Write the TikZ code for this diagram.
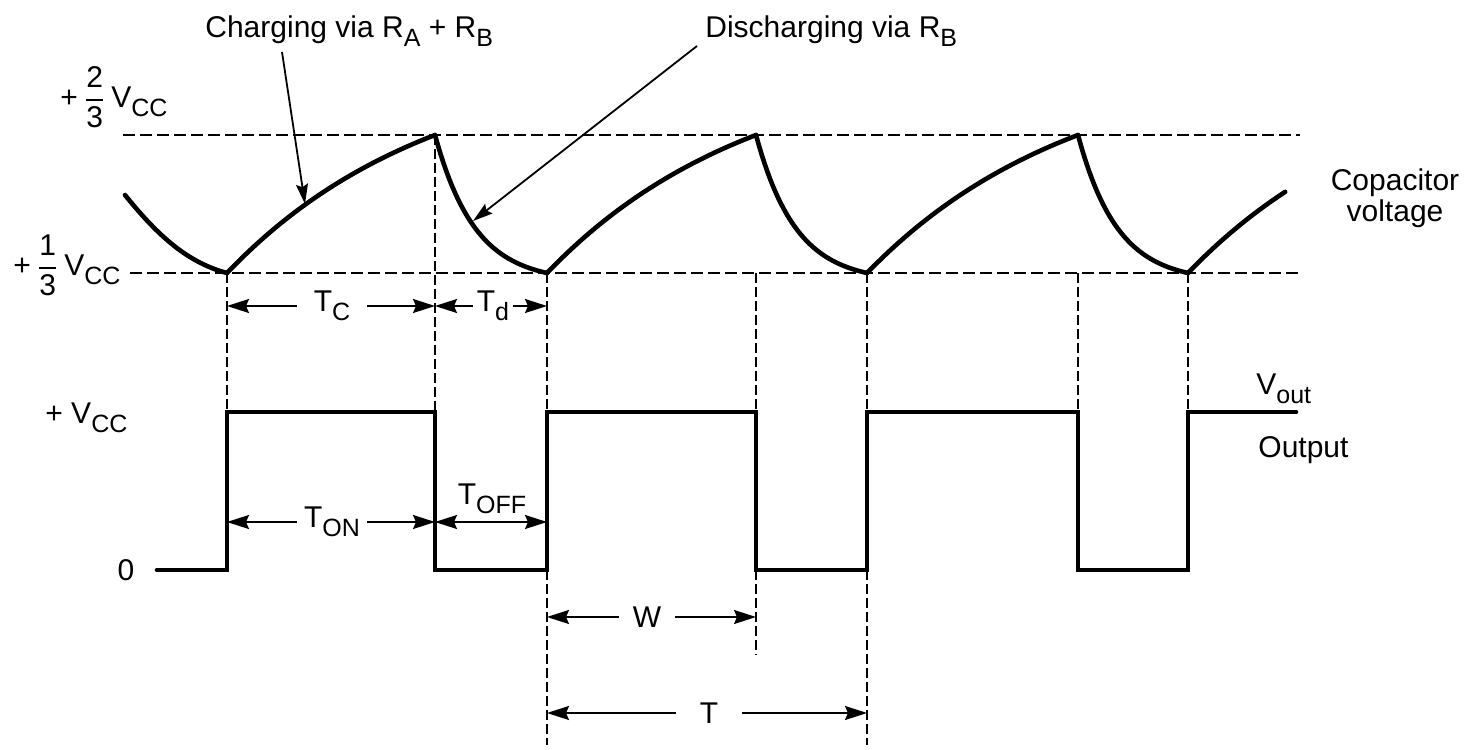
\documentclass[tikz,border=0pt]{standalone}
\usepackage{amsmath}
\usepackage{fontspec}
\setmainfont{Liberation Sans}
\usetikzlibrary{arrows.meta}
\newcommand\lowsub[1]{\raisebox{-4.5pt}{\fontsize{12.5}{13}\selectfont #1}}
\newcommand\fracvc[2]{$\genfrac{}{}{0.9pt}{0}{\text{#1}}{\text{#2}}$}
\newcommand\chargeseg[3]{\draw[wave] plot[domain=0:#3,samples=40,variable=\u] ({#1+(#2-#1)*\u},{273-138*(1-exp(-\u))/(1-exp(-1))});}
\newcommand\dischargeseg[2]{\draw[wave] plot[domain=0:1,samples=40,variable=\u] ({#1+(#2-#1)*\u},{273-138*(exp(-2.8*\u)-exp(-2.8))/(1-exp(-2.8))});}
\begin{document}
\begin{tikzpicture}[x=0.5pt,y=-0.5pt,
  every node/.style={font=\fontsize{15}{18}\selectfont, inner sep=0pt},
  wave/.style={line width=2.3pt, line join=round, line cap=round},
  guide/.style={line width=1.3pt, dash pattern=on 6pt off 2.5pt},
  vguide/.style={line width=1pt, dash pattern=on 5pt off 2pt},
  dimarrow/.style={line width=0.9pt, -{Stealth[length=11pt,width=7pt,inset=1.5pt]}},
  dimboth/.style={line width=0.9pt, {Stealth[length=11pt,width=7pt,inset=1.5pt]}-{Stealth[length=11pt,width=7pt,inset=1.5pt]}},
  callout/.style={line width=0.9pt, -{Stealth[length=10pt,width=6pt,inset=1.5pt]}}
]
\useasboundingbox (0,0) rectangle (1468,750);

% key points
\coordinate (v1) at (227,273);
\coordinate (p1) at (435,135);
\coordinate (v2) at (547,273);
\coordinate (p2) at (756,135);
\coordinate (v3) at (867,273);
\coordinate (p3) at (1078,135);
\coordinate (v4) at (1188,273);

% threshold guides
\draw[guide] (123,135) -- (1300,135);
\draw[guide] (130,273) -- (1300,273);

% vertical guides
\draw[vguide] (v1) -- (227,412);
\draw[vguide] (p1) -- (435,412);
\draw[vguide] (v2) -- (547,412);
\draw[vguide] (547,570) -- (547,745);
\draw[vguide] (756,273) -- (756,412);
\draw[vguide] (756,570) -- (756,655);
\draw[vguide] (v3) -- (867,412);
\draw[vguide] (867,570) -- (867,745);
\draw[vguide] (1078,273) -- (1078,412);
\draw[vguide] (v4) -- (1188,412);

% capacitor voltage
\draw[wave] (125,195) .. controls (155,232) and (185,262) .. (v1);
\chargeseg{227}{435}{1}
\dischargeseg{435}{547}
\chargeseg{547}{756}{1}
\dischargeseg{756}{867}
\chargeseg{867}{1078}{1}
\dischargeseg{1078}{1188}
\chargeseg{1188}{1397}{0.465}

% output
\draw[wave, line join=miter] (157,570) -| (227,412) -| (435,570) -| (547,412) -| (756,570) -| (867,412) -| (1078,570) -| (1188,412) -- (1296,412);

% left labels
\node[anchor=base west] (l23) at (60,107) {+\hspace{3pt}\fracvc{2}{3}\hspace{3pt}V\lowsub{CC}};
\node[anchor=base west] (l13) at (13,275) {+\hspace{3pt}\fracvc{1}{3}\hspace{3pt}V\lowsub{CC}};
\node[anchor=base west] (lvcc) at (45,423) {+ V\lowsub{CC}};
\node[anchor=base] (lzero) at (126,580) {0};

% right labels
\node[align=center, font=\fontsize{15}{15.5}\selectfont] (capv) at (1395,198) {Copacitor\\voltage};
\node[anchor=base west] (vout) at (1256,394) {V\lowsub{out}};
\node[anchor=base west] (outlbl) at (1258,457) {Output};

% callouts
\node[anchor=base west] (chglbl) at (205,37) {Charging via R\lowsub{A} + R\lowsub{B}};
\node[anchor=base west] (dislbl) at (705,37) {Discharging via R\lowsub{B}};
\coordinate (chgfrom) at (282,52);
\coordinate (chgto) at (305,204);
\coordinate (disfrom) at (697,46);
\coordinate (disto) at (473,221);
\draw[callout] (chgfrom) -- (chgto);
\draw[callout] (disfrom) -- (disto);

% dimensions
\coordinate (tcl) at (227,306); \coordinate (tcr) at (435,306);
\coordinate (tdr) at (547,306);
\node[minimum width=35pt] (tc) at (332,306) {T\lowsub{C}};
\draw[dimarrow] (tc.west) -- (tcl);
\draw[dimarrow] (tc.east) -- (tcr);
\node[minimum width=20pt] (td) at (493,306) {T\lowsub{d}};
\draw[dimarrow] (td.west) -- (tcr);
\draw[dimarrow] (td.east) -- (tdr);

\coordinate (tonl) at (227,522); \coordinate (tonr) at (435,522);
\coordinate (toffr) at (547,522);
\node[minimum width=35pt] (ton) at (332,522) {T\lowsub{ON}};
\draw[dimarrow] (ton.west) -- (tonl);
\draw[dimarrow] (ton.east) -- (tonr);
\node (toff) at (492,499) {T\lowsub{OFF}};
\draw[dimboth] (tonr) -- (toffr);

\coordinate (wl) at (547,617); \coordinate (wr) at (756,617);
\node[minimum width=27.5pt] (w) at (647,617) {W};
\draw[dimarrow] (w.west) -- (wl);
\draw[dimarrow] (w.east) -- (wr);

\coordinate (tl) at (547,713); \coordinate (tr) at (867,713);
\node[minimum width=32.5pt] (t) at (709,713) {T};
\draw[dimarrow] (t.west) -- (tl);
\draw[dimarrow] (t.east) -- (tr);
\end{tikzpicture}
\end{document}
